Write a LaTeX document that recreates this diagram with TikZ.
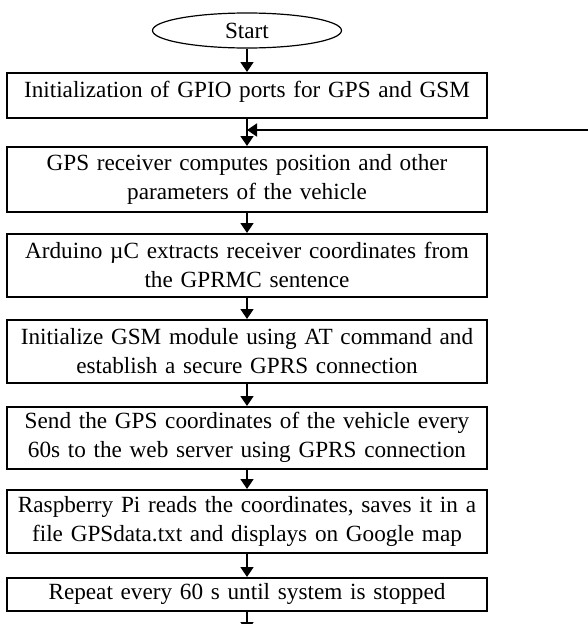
\documentclass[tikz,border=0pt]{standalone}
\usepackage{fontspec}
\setmainfont{Liberation Serif}
\usetikzlibrary{arrows.meta,shapes.geometric}
\newdimen\unit
\tikzset{unit/.code={\unit=\dimexpr#1\relax}}
\tikzset{xy/.style={x={#1},y={-#1},unit={#1},font={\fontsize{23.2\unit}{29\unit}\selectfont},line width=1.5\unit}}
\tikzset{box/.style={draw,anchor=north,minimum width=480\unit,text width=470\unit,inner xsep=5\unit,inner ysep=0pt,align=center}}
\tikzset{flow/.style={-{Triangle[width=13pt,length=10pt]}}}

\begin{document}
\begin{tikzpicture}[xy=1pt]%
    \path [use as bounding box] (0,0) rectangle (588,624);
    \path (247,30.5) node [draw, ellipse, line width=1.2\unit, minimum width=189\unit, minimum height=35\unit, inner sep=0pt] (start) {Start};
    \path (247,72) node [box, text height=25\unit, text depth=20\unit] (init) {Initialization of GPIO ports for GPS and GSM};
    \path (247,146) node [box, minimum height=65\unit] (gps) {GPS receiver computes position and other\\parameters of the vehicle};
    \path (247,233) node [box, minimum height=63\unit] (mcu) {Arduino µC extracts receiver coordinates from\\the GPRMC sentence};
    \path (247,319) node [box, minimum height=63\unit] (gsm) {Initialize GSM module using AT command and\\establish a secure GPRS connection};
    \path (247,406) node [box, minimum height=62\unit] (send) {Send the GPS coordinates of the vehicle every\\60s to the web server using GPRS connection};
    \path (247,489) node [box, minimum height=63\unit] (pi) {Raspberry Pi reads the coordinates, saves it in a\\file GPSdata.txt and displays on Google map};
    \path (247,577) node [box, minimum height=33\unit] (repeat) {Repeat every 60 s until system is stopped};
    \coordinate (end) at (247,632);
    \coordinate (back) at (600,130);
    \coordinate (join) at (247,130);
    \foreach \a/\b in {start/init,init/gps,gps/mcu,mcu/gsm,gsm/send,send/pi,pi/repeat,repeat/end} {
        \path [draw, flow] (\a) -- (\b);
    }
    \path [draw, flow] (back) -- (join);
\end{tikzpicture}
\end{document}
